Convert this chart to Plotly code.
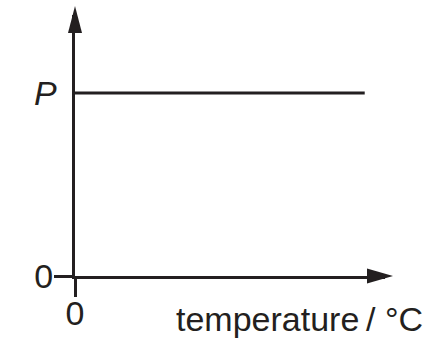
import plotly.graph_objects as go

# ---- data ----
temperature = [0, 100]          # temperature / °C (arbitrary span)
pressure = [1, 1]               # constant value P
P_value = 1
x_tick_vals = [0]
x_tick_text = ["0"]
y_tick_vals = [0]
y_tick_text = ["0"]
x_title = "temperature\u2009/ °C"
P_label = "<i>P</i>"

INK = "#231f20"
FONT = "Liberation Sans, Arial, Helvetica, sans-serif"
FS = 34

fig = go.Figure()
fig.add_trace(go.Scatter(
    x=temperature, y=pressure, mode="lines",
    line=dict(color=INK, width=3),
    hoverinfo="skip", showlegend=False,
))

axis_common = dict(
    showline=True, linecolor=INK, linewidth=3,
    ticks="outside", ticklen=18, tickwidth=3, tickcolor=INK,
    showgrid=False, zeroline=False, fixedrange=True,
    tickfont=dict(family=FONT, size=FS, color=INK),
)

fig.update_layout(
    width=443, height=355,
    margin=dict(l=75, r=58, t=15, b=79),
    paper_bgcolor="white", plot_bgcolor="white",
    xaxis=dict(range=[0, 107], tickvals=x_tick_vals, ticktext=x_tick_text,
               ticklabelstandoff=-13, **axis_common),
    yaxis=dict(range=[0, 1.426], tickvals=y_tick_vals, ticktext=y_tick_text,
               ticklabelstandoff=-6, **axis_common),
    shapes=[
        dict(type="path", xref="paper", yref="paper",
             xsizemode="pixel", ysizemode="pixel", xanchor=1, yanchor=0,
             path="M -18,-7.5 L 8,0 L -18,7.5 Z",
             fillcolor=INK, line=dict(width=0), layer="above"),
        dict(type="path", xref="paper", yref="paper",
             xsizemode="pixel", ysizemode="pixel", xanchor=0, yanchor=1,
             path="M -7,-18 L 0,9 L 7,-18 Z",
             fillcolor=INK, line=dict(width=0), layer="above"),
    ],
    annotations=[
        dict(text=P_label, xref="paper", yref="y", x=0, y=P_value,
             xanchor="right", yanchor="middle", xshift=-16, showarrow=False,
             font=dict(family=FONT, size=FS, color=INK)),
        dict(text=x_title, xref="paper", yref="paper", x=0.7226, y=0,
             xanchor="center", yanchor="top", yshift=-22, showarrow=False,
             font=dict(family=FONT, size=FS, color=INK)),
    ],
)

fig.write_html("out.html")
